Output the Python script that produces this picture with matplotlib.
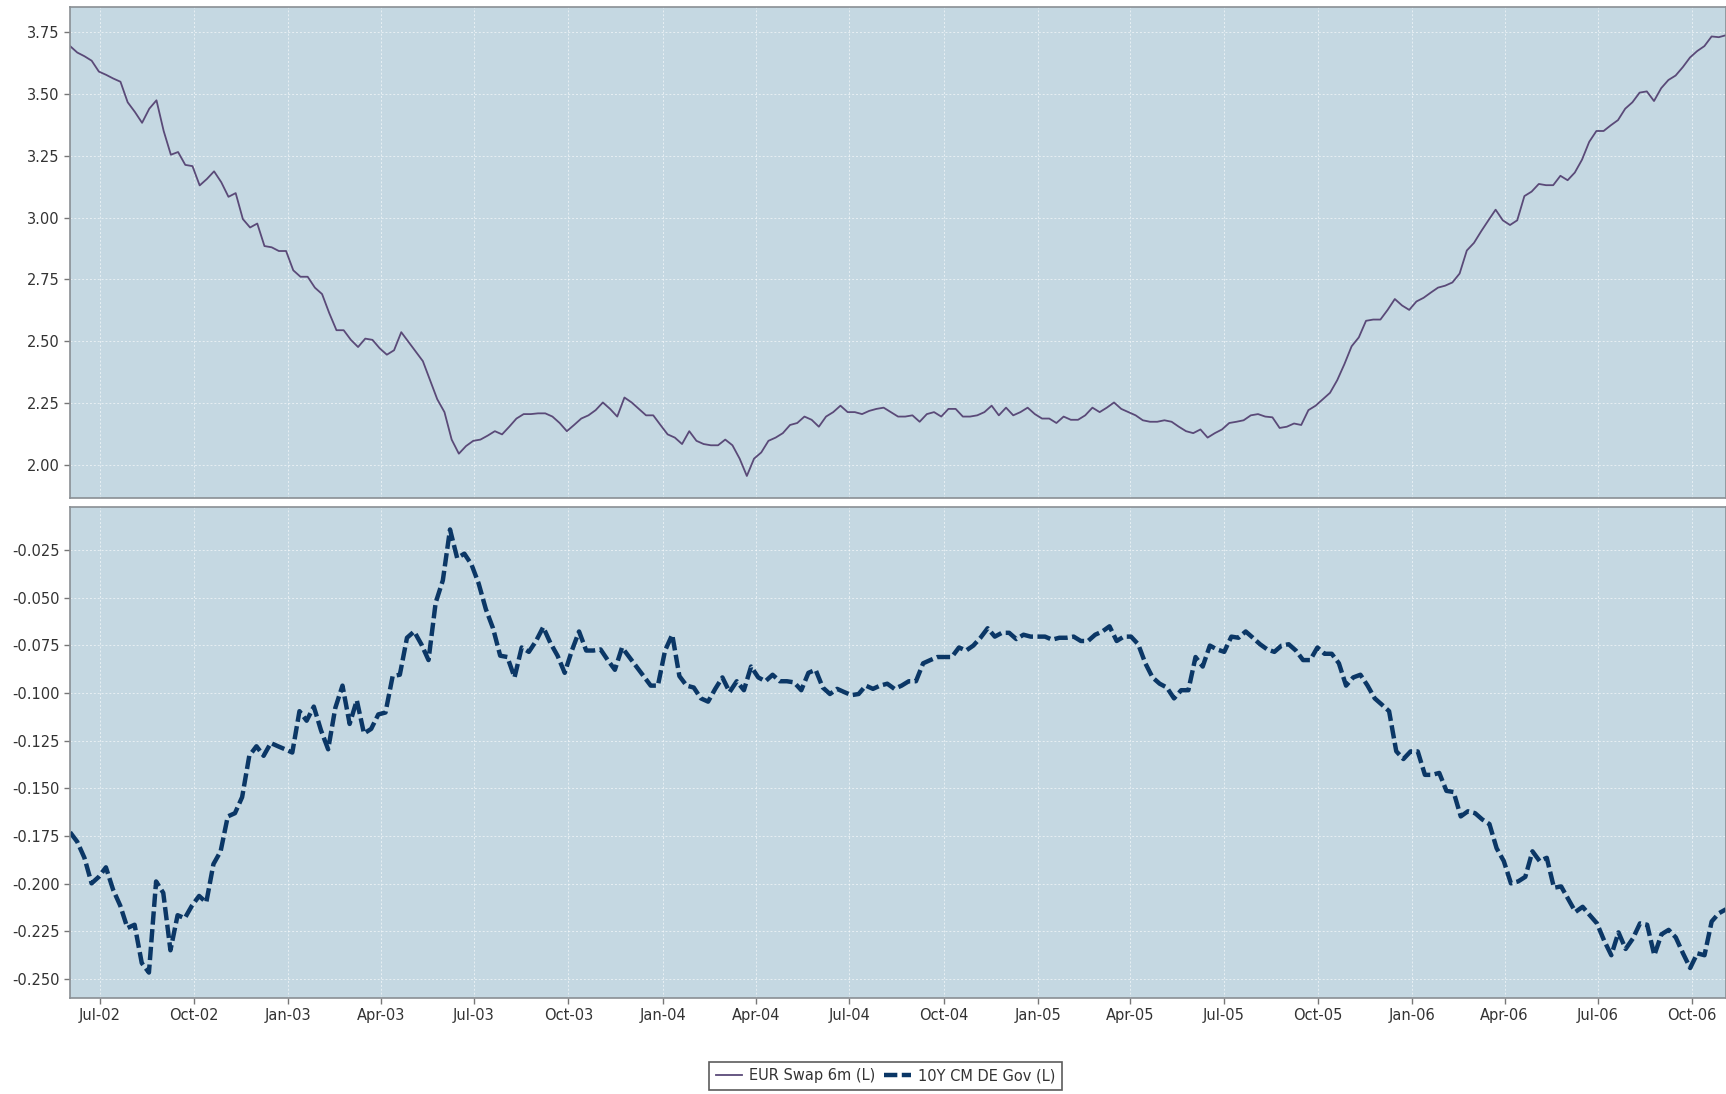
import numpy as np
import pandas as pd
import matplotlib
matplotlib.use("Agg")
from matplotlib import pyplot as plt
import matplotlib.dates as mdates
from matplotlib.lines import Line2D

# weekly fixings
start_date = "2002-06-02"
end_date = "2006-11-03"

swap_6m = [
    3.693, 3.667, 3.652, 3.634, 3.590, 3.577, 3.562, 3.549, 3.466, 3.427,
    3.383, 3.440, 3.474, 3.350, 3.254, 3.265, 3.213, 3.208, 3.130, 3.156,
    3.187, 3.143, 3.084, 3.099, 2.994, 2.960, 2.976, 2.885, 2.880, 2.865,
    2.865, 2.787, 2.761, 2.761, 2.717, 2.691, 2.614, 2.545, 2.545, 2.506,
    2.477, 2.511, 2.506, 2.472, 2.446, 2.464, 2.537, 2.498, 2.459, 2.420,
    2.343, 2.266, 2.214, 2.103, 2.046, 2.077, 2.098, 2.103,
    2.119, 2.137, 2.124, 2.155, 2.188, 2.206, 2.206, 2.209, 2.209, 2.196,
    2.170, 2.137, 2.162, 2.188, 2.201, 2.222, 2.253, 2.227, 2.196, 2.273,
    2.253, 2.227, 2.201, 2.201, 2.162, 2.124, 2.111, 2.085, 2.137, 2.098,
    2.085, 2.080, 2.080, 2.103, 2.080, 2.026, 1.956, 2.026, 2.051, 2.098,
    2.111, 2.129, 2.162,
    2.170, 2.196, 2.183, 2.155, 2.196, 2.214, 2.240, 2.214, 2.214, 2.206,
    2.219, 2.227, 2.232, 2.214, 2.196, 2.196, 2.201, 2.175, 2.206, 2.214,
    2.196, 2.227, 2.227, 2.196, 2.196, 2.201, 2.214, 2.240, 2.201, 2.232,
    2.201, 2.214, 2.232, 2.206, 2.188, 2.188, 2.170, 2.196, 2.183, 2.183,
    2.201, 2.232,
    2.214, 2.232, 2.253, 2.227, 2.214, 2.201, 2.181, 2.175, 2.175, 2.181,
    2.175, 2.155, 2.137, 2.129, 2.144, 2.111, 2.129, 2.144, 2.170, 2.175,
    2.181, 2.201, 2.206, 2.196, 2.193, 2.150, 2.155, 2.168, 2.162, 2.222,
    2.240, 2.266, 2.292, 2.343, 2.408, 2.480, 2.516, 2.583, 2.588, 2.588,
    2.627, 2.671, 2.645,
    2.627, 2.661, 2.676, 2.697, 2.717, 2.725, 2.738, 2.774, 2.867, 2.898,
    2.945, 2.989, 3.032, 2.989, 2.970, 2.989, 3.087, 3.105, 3.136, 3.131,
    3.131, 3.169, 3.151, 3.182, 3.234, 3.306, 3.350, 3.350, 3.373, 3.394,
    3.440, 3.466, 3.505, 3.510, 3.471, 3.523, 3.556, 3.574, 3.608, 3.647,
    3.673, 3.693, 3.732, 3.729, 3.737,
]

de_gov_10y = [
    -0.1731, -0.1781, -0.1865, -0.1999, -0.1965, -0.1915, -0.2032, -0.2116, -0.2233, -0.2216,
    -0.2417, -0.2467, -0.1989, -0.2049, -0.2350, -0.2166, -0.2182, -0.2116, -0.2065, -0.2099,
    -0.1898, -0.1831, -0.1648, -0.1631, -0.1547, -0.1330, -0.1280, -0.1330, -0.1263, -0.1280,
    -0.1296, -0.1313, -0.1096, -0.1146, -0.1072, -0.1196, -0.1296, -0.1079, -0.0962, -0.1163,
    -0.1039, -0.1213, -0.1189, -0.1113, -0.1103, -0.0912, -0.0905, -0.0711, -0.0678, -0.0745,
    -0.0828, -0.0527, -0.0410, -0.0143, -0.0293, -0.0270, -0.0327, -0.0427,
    -0.0561, -0.0661, -0.0805, -0.0812, -0.0919, -0.0762, -0.0785, -0.0728, -0.0655, -0.0738,
    -0.0805, -0.0895, -0.0778, -0.0678, -0.0778, -0.0778, -0.0772, -0.0828, -0.0879, -0.0762,
    -0.0812, -0.0862, -0.0912, -0.0962, -0.0962, -0.0778, -0.0695, -0.0912, -0.0962, -0.0972,
    -0.1029, -0.1046, -0.0979, -0.0919, -0.0996, -0.0939, -0.0986, -0.0862, -0.0919, -0.0939,
    -0.0905, -0.0939, -0.0939,
    -0.0945, -0.0986, -0.0895, -0.0879, -0.0972, -0.1006, -0.0979, -0.0996, -0.1012, -0.1006,
    -0.0962, -0.0979, -0.0962, -0.0952, -0.0979, -0.0962, -0.0939, -0.0939, -0.0845, -0.0828,
    -0.0812, -0.0812, -0.0812, -0.0762, -0.0778, -0.0752, -0.0711, -0.0661, -0.0705, -0.0685,
    -0.0685, -0.0718, -0.0695, -0.0705, -0.0705, -0.0705, -0.0721, -0.0711, -0.0711, -0.0705,
    -0.0728, -0.0728, -0.0695,
    -0.0678, -0.0651, -0.0728, -0.0705, -0.0705, -0.0745, -0.0845, -0.0919, -0.0952, -0.0972,
    -0.1029, -0.0986, -0.0986, -0.0812, -0.0862, -0.0752, -0.0772, -0.0785, -0.0705, -0.0711,
    -0.0678, -0.0711, -0.0745, -0.0772, -0.0785, -0.0752, -0.0745, -0.0778, -0.0828, -0.0828,
    -0.0762, -0.0795, -0.0795, -0.0845, -0.0962, -0.0919, -0.0905, -0.0962, -0.1029, -0.1062,
    -0.1096, -0.1306, -0.1347,
    -0.1307, -0.1307, -0.1430, -0.1430, -0.1420, -0.1514, -0.1520, -0.1648, -0.1621, -0.1631,
    -0.1664, -0.1688, -0.1815, -0.1882, -0.1999, -0.1989, -0.1965, -0.1831, -0.1882, -0.1865,
    -0.2022, -0.2015, -0.2082, -0.2149, -0.2122, -0.2166, -0.2209, -0.2299, -0.2376, -0.2256,
    -0.2343, -0.2289, -0.2209, -0.2216, -0.2376, -0.2266, -0.2243, -0.2283, -0.2366, -0.2443,
    -0.2366, -0.2376, -0.2199, -0.2156, -0.2135,
]

swap_ticks = [2.00, 2.25, 2.50, 2.75, 3.00, 3.25, 3.50, 3.75]
gov_ticks = [-0.250, -0.225, -0.200, -0.175, -0.150, -0.125, -0.100, -0.075, -0.050, -0.025]
swap_label = "EUR Swap 6m (L)"
gov_label = "10Y CM DE Gov (L)"

bg = "#c5d8e2"
swap_color = "#5a4a78"
gov_color = "#0b3766"
text_color = "#333333"

swap_dates = pd.date_range(start_date, end_date, periods=len(swap_6m))
gov_dates = pd.date_range(start_date, end_date, periods=len(de_gov_10y))

fig = plt.figure(figsize=(17.26, 10.94), dpi=100)
ax1 = fig.add_axes([0.0406, 0.5448, 0.9594, 0.4488])
ax2 = fig.add_axes([0.0406, 0.0878, 0.9594, 0.4488], sharex=ax1)

for ax in (ax1, ax2):
    ax.set_facecolor(bg)
    ax.grid(True, color="white", linestyle=(0, (2, 2)), linewidth=0.7, alpha=0.6)
    ax.set_axisbelow(True)
    for s in ax.spines.values():
        s.set_color("#8a8f94")
        s.set_linewidth(1.2)
    ax.tick_params(axis="both", colors="#777777", labelcolor=text_color,
                   labelsize=10.5, length=4, width=1)

ax1.plot(swap_dates, swap_6m, color=swap_color, linewidth=1.3)
ax2.plot(gov_dates, de_gov_10y, color=gov_color, linewidth=3.2,
         linestyle=(0, (3, 1)), solid_capstyle="butt", dash_capstyle="butt")

ax1.set_ylim(1.867, 3.851)
ax1.set_yticks(swap_ticks)
ax1.set_yticklabels(["%.2f" % t for t in swap_ticks])
ax2.set_ylim(-0.260, -0.0025)
ax2.set_yticks(gov_ticks)
ax2.set_yticklabels(["%.3f" % t for t in gov_ticks])

ax2.set_xlim(pd.Timestamp(start_date), pd.Timestamp(end_date))
ax2.xaxis.set_major_locator(mdates.MonthLocator(bymonth=[1, 4, 7, 10]))
ax2.xaxis.set_major_formatter(mdates.DateFormatter("%b-%y"))
ax1.tick_params(axis="x", which="both", length=0, labelbottom=False)

handles = [
    Line2D([], [], color=swap_color, linewidth=1.3),
    Line2D([], [], color=gov_color, linewidth=3.2, linestyle=(0, (3, 1))),
]
leg = fig.legend(handles, [swap_label, gov_label], loc="lower center",
                 bbox_to_anchor=(0.513, -0.003), ncol=2, fontsize=10.5,
                 frameon=True, fancybox=False, handlelength=1.8,
                 handletextpad=0.5, columnspacing=0.6, borderpad=0.45)
leg.get_frame().set_edgecolor("#333333")
leg.get_frame().set_linewidth(1.2)
for t in leg.get_texts():
    t.set_color(text_color)

fig.savefig("out.png", dpi=100)
